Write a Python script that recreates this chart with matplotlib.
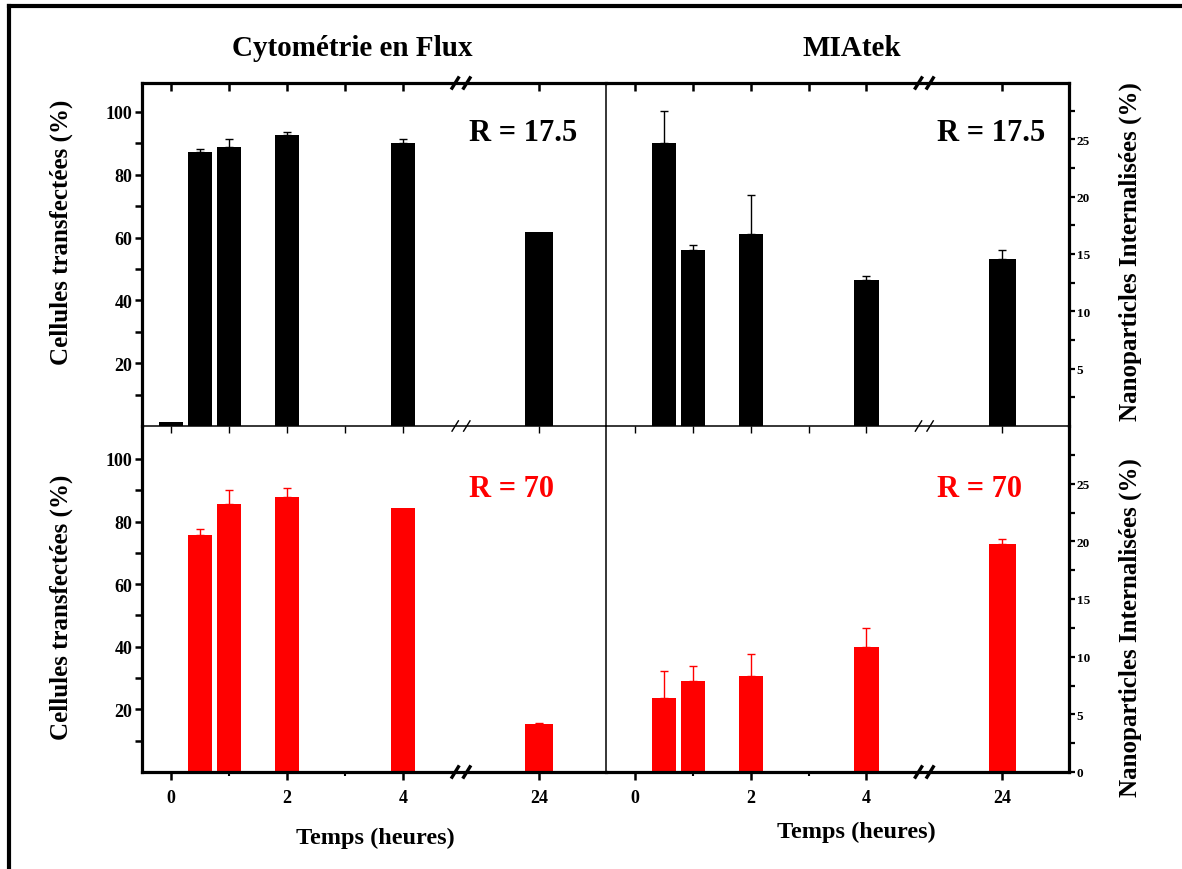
import numpy as np
import matplotlib
matplotlib.use("Agg")
import matplotlib.pyplot as plt
from matplotlib.lines import Line2D
from matplotlib.ticker import FixedLocator, NullFormatter

plt.rcParams['font.family'] = ['Liberation Serif', 'DejaVu Serif']
plt.rcParams['font.weight'] = 'bold'

# ---------------- data ----------------
times = [0, 0.5, 1, 2, 4, 24]

cyto_r175 = [1.3, 87.2, 88.9, 92.8, 90.2, 61.8]
cyto_r175_err = [0, 1.1, 2.6, 0.7, 1.1, 0]

miatek_r175 = [0, 24.7, 15.35, 16.7, 12.7, 14.6]
miatek_r175_err = [0, 2.8, 0.45, 3.4, 0.35, 0.7]

cyto_r70 = [0, 75.8, 85.5, 87.7, 84.3, 15.3]
cyto_r70_err = [0, 1.9, 4.6, 3.0, 0, 0.3]

miatek_r70 = [0, 6.43, 7.9, 8.35, 10.84, 19.74]
miatek_r70_err = [0, 2.3, 1.25, 1.85, 1.65, 0.5]

bar_widths = [0.4, 0.42, 0.42, 0.42, 0.42, 0.48]

xtick_times = [0, 2, 4, 24]
xtick_labels = ['0', '2', '4', '24']
xminor_times = [1, 3]

left_major = [20, 40, 60, 80, 100]
left_minor = [10, 30, 50, 70, 90]
right_major_top = [5, 10, 15, 20, 25]
right_major_bot = [0, 5, 10, 15, 20, 25]
right_minor = [2.5, 7.5, 12.5, 17.5, 22.5, 27.5]

title_left = "Cytométrie en Flux"
title_right = "MIAtek"
ylabel_left = "Cellules transfectées (%)"
ylabel_right = "Nanoparticles Internalisées (%)"
xlabel = "Temps (heures)"
label_r175 = "R = 17.5"
label_r70 = "R = 70"

# ---------------- axis break mapping ----------------
BREAK_AT = 5.0
SHIFT_AFTER_BREAK = 24 - 6.35


def xpos(t):
    t = np.asarray(t, dtype=float)
    return np.where(t < BREAK_AT, t, t - SHIFT_AFTER_BREAK)


RED = '#ff0000'
W, H = 1182, 870
fig = plt.figure(figsize=(W / 100, H / 100), dpi=100)


def fx(px):
    return px / W


def fy(py):
    return 1 - py / H


lx0, lx1 = 142, 606
rx0, rx1 = 606, 1069
ty0, ty1 = 84, 427
by0, by1 = 427, 773

ax_bl = fig.add_axes([fx(lx0), fy(by1), (lx1 - lx0) / W, (by1 - by0) / H])
ax_br = fig.add_axes([fx(rx0), fy(by1), (rx1 - rx0) / W, (by1 - by0) / H])
ax_tl = fig.add_axes([fx(lx0), fy(ty1), (lx1 - lx0) / W, (ty1 - ty0) / H])
ax_tr = fig.add_axes([fx(rx0), fy(ty1), (rx1 - rx0) / W, (ty1 - ty0) / H])

THICK = 2.3
THIN = 1.1

panels = [
    (ax_tl, cyto_r175, cyto_r175_err, 'black', 'left', 'top', (0, 109.2)),
    (ax_tr, miatek_r175, miatek_r175_err, 'black', 'right', 'top', (0, 29.9)),
    (ax_bl, cyto_r70, cyto_r70_err, RED, 'left', 'bottom', (0, 110.5)),
    (ax_br, miatek_r70, miatek_r70_err, RED, 'right', 'bottom', (0, 30.0)),
]

for ax, vals, errs, color, side, row, ylim in panels:
    ax.patch.set_alpha(0)
    x = xpos(times)
    v = np.asarray(vals, dtype=float)
    e = np.asarray(errs, dtype=float)
    ax.bar(x, v, width=bar_widths, color=color, edgecolor='none', zorder=2)
    m = e > 0
    ax.errorbar(x[m], v[m], yerr=[np.zeros(m.sum()), e[m]], fmt='none',
                ecolor=color, elinewidth=1.0, capsize=3, capthick=1.0, zorder=3)
    ax.set_xlim(-0.5, 7.5)
    ax.set_ylim(*ylim)

    # spines
    for s in ax.spines.values():
        s.set_linewidth(THIN)
    if row == 'top':
        ax.spines['top'].set_linewidth(THICK)
    else:
        ax.spines['bottom'].set_linewidth(THICK)
        ax.spines['top'].set_visible(False)
    if side == 'left':
        ax.spines['left'].set_linewidth(THICK)
        ax.spines['right'].set_visible(False)
    else:
        ax.spines['right'].set_linewidth(THICK)

    # x ticks
    ax.xaxis.set_major_locator(FixedLocator(xpos(xtick_times)))
    ax.xaxis.set_minor_locator(FixedLocator(xpos(xminor_times)))
    if row == 'bottom':
        ax.set_xticklabels(xtick_labels)
        ax.tick_params(axis='x', which='major', direction='out', length=6, width=1.8,
                       labelsize=13, pad=6, top=False, labeltop=False)
        ax.tick_params(axis='x', which='minor', direction='out', length=3, width=1.5, top=False)
    else:
        ax.xaxis.set_major_formatter(NullFormatter())
        ax.tick_params(axis='x', which='both', direction='in', length=6, width=1.8,
                       top=True, bottom=True, labelbottom=False)
        # ticks on the shared middle line point downward
        for t in ax.xaxis.get_major_ticks() + ax.xaxis.get_minor_ticks():
            t.tick1line.set_marker(3)  # TICKDOWN
            t.tick1line.set_markersize(5)
            t.tick1line.set_markeredgewidth(1.0)

    # y ticks
    if side == 'left':
        ax.yaxis.set_major_locator(FixedLocator(left_major))
        ax.yaxis.set_minor_locator(FixedLocator(left_minor))
        ax.tick_params(axis='y', which='both', direction='out', left=True, right=False,
                       length=5, width=1.8, labelsize=13, pad=2)
    else:
        ax.yaxis.tick_right()
        ax.yaxis.set_major_locator(FixedLocator(right_major_top if row == 'top' else right_major_bot))
        ax.yaxis.set_minor_locator(FixedLocator(right_minor))
        ax.tick_params(axis='y', which='both', direction='out', left=False, right=True,
                       length=4, width=1.6, labelsize=9.5, pad=1.5)

    # axis break marks
    xt = ax.get_xaxis_transform()
    marks = [(1.0, 2.4)] if row == 'top' else [(0.0, 2.4)]
    if row == 'top':
        marks.append((0.0, 1.0))
    for yb, lw in marks:
        for dx in (-0.1, 0.1):
            xc = BREAK_AT + dx
            ax.add_line(Line2D([xc - 0.055, xc + 0.055], [yb - 0.015, yb + 0.015],
                               transform=xt, color='black', lw=lw, clip_on=False, zorder=5))

    # R labels
    if row == 'top':
        ax.text(0.705 if side == 'left' else 0.715, 0.857, label_r175, transform=ax.transAxes,
                fontsize=22, fontweight='bold', color='black', va='center', ha='left')
    else:
        ax.text(0.705 if side == 'left' else 0.715, 0.82, label_r70, transform=ax.transAxes,
                fontsize=22, fontweight='bold', color=RED, va='center', ha='left')

# titles and labels
fig.text(fx(352), fy(48), title_left, fontsize=21, fontweight='bold', ha='center', va='center')
fig.text(fx(852), fy(48), title_right, fontsize=21, fontweight='bold', ha='center', va='center')
fig.text(fx(375), fy(838), xlabel, fontsize=17.5, fontweight='bold', ha='center', va='center')
fig.text(fx(856), fy(832), xlabel, fontsize=17.5, fontweight='bold', ha='center', va='center')
fig.text(fx(61), fy(232), ylabel_left, fontsize=18, fontweight='bold', rotation=90, ha='center', va='center')
fig.text(fx(61), fy(607), ylabel_left, fontsize=18, fontweight='bold', rotation=90, ha='center', va='center')
fig.text(fx(1130), fy(252), ylabel_right, fontsize=18, fontweight='bold', rotation=90, ha='center', va='center')
fig.text(fx(1130), fy(628), ylabel_right, fontsize=18, fontweight='bold', rotation=90, ha='center', va='center')

# outer frame (left and top edges)
fig.add_artist(Line2D([fx(9), fx(9)], [fy(7), 0], color='black', lw=3.0))
fig.add_artist(Line2D([fx(9), 1], [fy(7), fy(7)], color='black', lw=3.0))

fig.savefig('out.png', dpi=100)
